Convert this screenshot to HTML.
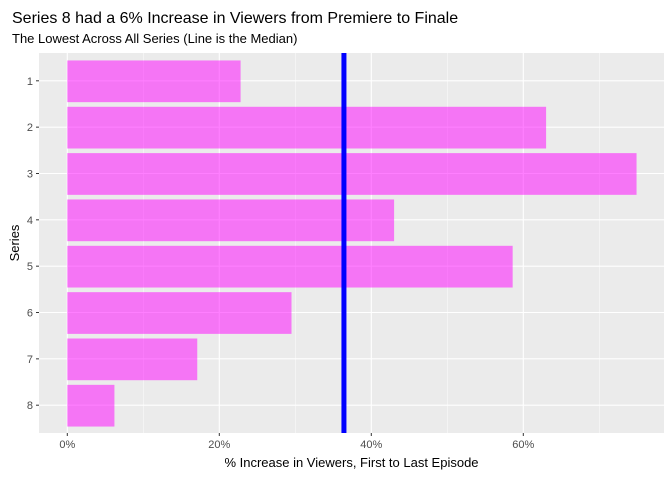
<!DOCTYPE html>
<html><head><meta charset="utf-8"><style>
body{margin:0;background:#fff;font-family:"Liberation Sans",sans-serif}
svg text{font-family:"Liberation Sans",sans-serif}
</style></head><body>
<svg id="c" width="672" height="480"></svg>
<script>
const categories=["1","2","3","4","5","6","7","8"];
const values=[22.8,63.0,74.9,43.0,58.6,29.5,17.1,6.2];
const median=36.4;
const xTicks=[0,20,40,60];
const xMinor=[10,30,50,70];
const NS="http://www.w3.org/2000/svg";
const svg=document.getElementById('c');
const L=39,R=664,T=53,B=433;
const x=v=>67.3+v*7.6;
const step=(B-T)/(categories.length+0.2);
const y=i=>T+step*(0.6+i);
function mk(t,a,p){const e=document.createElementNS(NS,t);for(const k in a)e.setAttribute(k,a[k]);(p||svg).appendChild(e);return e;}
const bg=mk('rect',{x:L,y:T,width:R-L,height:B-T,fill:'#EBEBEB'});


xMinor.forEach(v=>{const l=mk('line',{x1:x(v),x2:x(v),y1:T,y2:B,stroke:'#fff','stroke-width':0.5});

});
xTicks.forEach(v=>{const l=mk('line',{x1:x(v),x2:x(v),y1:T,y2:B,stroke:'#fff','stroke-width':1.1});


const tk=mk('line',{x1:x(v),x2:x(v),y1:B,y2:B+3,stroke:'#333'});


const t=mk('text',{x:x(v),y:B+15,'text-anchor':'middle','font-size':11,fill:'#4D4D4D'});t.textContent=v+'%';

});
categories.forEach((c,i)=>{const l=mk('line',{x1:L,x2:R,y1:y(i),y2:y(i),stroke:'#fff','stroke-width':1.1});


const tk=mk('line',{x1:L-3,x2:L,y1:y(i),y2:y(i),stroke:'#333'});


const t=mk('text',{x:L-6,y:y(i)+4,'text-anchor':'end','font-size':11,fill:'#4D4D4D'});t.textContent=c;

});
values.forEach((v,i)=>{const h=step*0.9;const r=mk('rect',{x:x(0),y:y(i)-h/2+0.5,width:x(v)-x(0),height:h,fill:'#FF00FF','fill-opacity':0.5});

});
const m=mk('line',{x1:x(median),x2:x(median),y1:T,y2:B,stroke:'#0000FF','stroke-width':5});


const ti=mk('text',{x:12,y:23,'font-size':16,fill:'#000'});ti.textContent='Series 8 had a 6% Increase in Viewers from Premiere to Finale';


const st=mk('text',{x:12,y:43,'font-size':13,fill:'#000'});st.textContent='The Lowest Across All Series (Line is the Median)';


const xt=mk('text',{x:(L+R)/2,y:467,'text-anchor':'middle','font-size':13,fill:'#000'});xt.textContent='% Increase in Viewers, First to Last Episode';


const yt=mk('text',{x:0,y:0,'text-anchor':'middle','font-size':13,fill:'#000',transform:`translate(19,${(T+B)/2}) rotate(-90)`});yt.textContent='Series';


</script>
</body></html>
